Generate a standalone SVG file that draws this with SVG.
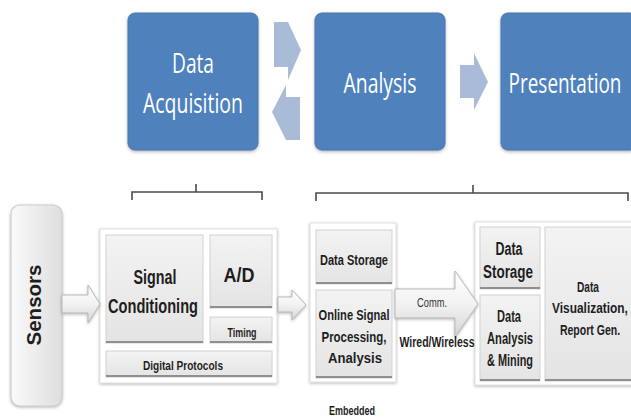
<svg xmlns="http://www.w3.org/2000/svg" width="631" height="419" viewBox="0 0 631 419">
  <defs>
    <linearGradient id="cellFill" x1="0" y1="0" x2="0" y2="1">
      <stop offset="0" stop-color="#f3f3f3"/>
      <stop offset="1" stop-color="#e4e4e4"/>
    </linearGradient>
    <linearGradient id="arrowFill" x1="0" y1="0" x2="0" y2="1">
      <stop offset="0" stop-color="#ffffff"/>
      <stop offset="0.5" stop-color="#f2f2f2"/>
      <stop offset="1" stop-color="#d4d4d4"/>
    </linearGradient>
    <linearGradient id="sensorFill" x1="0" y1="0" x2="1" y2="0">
      <stop offset="0" stop-color="#fafafa"/>
      <stop offset="0.5" stop-color="#ececec"/>
      <stop offset="1" stop-color="#dedede"/>
    </linearGradient>
    <filter id="soft" x="-10%" y="-10%" width="120%" height="120%">
      <feDropShadow dx="0" dy="1" stdDeviation="1.6" flood-color="#7a7a7a" flood-opacity="0.55"/>
    </filter>
    <filter id="blueShadow" x="-10%" y="-10%" width="120%" height="120%">
      <feDropShadow dx="0" dy="1.5" stdDeviation="1.5" flood-color="#6d6d6d" flood-opacity="0.5"/>
    </filter>
  </defs>
  <style>
    .stage { fill: #4f81bd; stroke: #4677b3; stroke-width: 1; filter: url(#blueShadow); }
    .stage-text { font-family: "Open Sans", "Noto Sans", sans-serif; font-size: 28px; fill: #ffffff; text-anchor: middle; }
    .flow { fill: #a9bbd7; }
    .panel { fill: #ffffff; stroke: #e2e2e2; stroke-width: 1; filter: url(#soft); }
    .cell { fill: url(#cellFill); stroke: #d2d2d2; stroke-width: 1; }
    .edge { fill: none; stroke: #8f8f8f; stroke-width: 2; }
    .pipe { fill: url(#arrowFill); stroke: #b9b9b9; stroke-width: 1; filter: url(#soft); }
    .brace { fill: none; stroke: #4a4a4a; stroke-width: 1.6; }
    .lbl { font-family: "Liberation Sans", Arial, sans-serif; font-weight: bold; fill: #1e1e1e; text-anchor: middle; }
    .plain { font-family: "Liberation Sans", Arial, sans-serif; fill: #333333; text-anchor: middle; }
  </style>

  <rect width="631" height="419" fill="#ffffff"/>

  <!-- stage boxes -->
  <g id="stage-acquisition">
    <rect class="stage" x="128" y="13" width="130" height="137" rx="7"/>
    <text class="stage-text" x="193" y="73" textLength="42" lengthAdjust="spacingAndGlyphs">Data</text>
    <text class="stage-text" x="193" y="113" textLength="100" lengthAdjust="spacingAndGlyphs">Acquisition</text>
  </g>
  <g id="stage-analysis">
    <rect class="stage" x="315" y="13" width="130" height="137" rx="7"/>
    <text class="stage-text" x="380" y="93" textLength="73" lengthAdjust="spacingAndGlyphs">Analysis</text>
  </g>
  <g id="stage-presentation">
    <rect class="stage" x="501" y="13" width="136" height="137" rx="7"/>
    <text class="stage-text" transform="translate(565,93) scale(0.6,1)" x="0" y="0" textLength="188" lengthAdjust="spacingAndGlyphs">Presentation</text>
  </g>

  <!-- stage flow arrows -->
  <g id="stage-flows">
    <polygon class="flow" points="274,22 288,22 301,50 288,80 288,67 274,67"/>
    <polygon class="flow" points="300,97 286,97 286,85 272,112 286,140 300,140"/>
    <polygon class="flow" points="460,65 474,65 474,53 488,82 474,110 474,98 460,98"/>
  </g>

  <!-- braces grouping the blocks under each stage -->
  <g id="braces">
    <path class="brace" d="M132,200 V192 H262 V200 M196,192 V184"/>
    <path class="brace" d="M316,201 V193 H628 V201 M473,193 V185"/>
  </g>

  <!-- sensors -->
  <g id="sensors">
    <rect x="11" y="205" width="51" height="201" rx="9" fill="url(#sensorFill)" stroke="#cfcfcf" stroke-width="1.2" filter="url(#soft)"/>
    <text class="lbl" transform="translate(41,305) rotate(-90)" x="0" y="0" font-size="20" fill="#333333" textLength="81" lengthAdjust="spacingAndGlyphs">Sensors</text>
  </g>

  <!-- acquisition hardware -->
  <g id="acquisition-block">
    <rect class="panel" x="100" y="229" width="177" height="154"/>
    <g id="signal-conditioning">
      <rect class="cell" x="106" y="235" width="97" height="108"/>
      <path class="edge" d="M106,342 H203"/>
      <text class="lbl" x="155" y="284" font-size="21" textLength="43" lengthAdjust="spacingAndGlyphs">Signal</text>
      <text class="lbl" x="153" y="313" font-size="21" textLength="90" lengthAdjust="spacingAndGlyphs">Conditioning</text>
    </g>
    <g id="ad-converter">
      <rect class="cell" x="210" y="235" width="62" height="73"/>
      <path class="edge" d="M210,307 H272"/>
      <text class="lbl" x="239" y="282" font-size="21" textLength="31" lengthAdjust="spacingAndGlyphs">A/D</text>
    </g>
    <g id="timing">
      <rect class="cell" x="210" y="317" width="62" height="26"/>
      <path class="edge" d="M210,342 H272"/>
      <text class="lbl" x="242" y="337" font-size="13" textLength="29" lengthAdjust="spacingAndGlyphs">Timing</text>
    </g>
    <g id="digital-protocols">
      <rect class="cell" x="106" y="351" width="166" height="26"/>
      <path class="edge" d="M106,376 H272"/>
      <text class="lbl" x="183" y="370" font-size="13" textLength="80" lengthAdjust="spacingAndGlyphs">Digital Protocols</text>
    </g>
  </g>

  <!-- embedded processing -->
  <g id="embedded-block">
    <rect class="panel" x="310" y="223" width="86" height="159"/>
    <g id="embedded-storage">
      <rect class="cell" x="316" y="230" width="76" height="54"/>
      <path class="edge" d="M316,283 H392"/>
      <text class="lbl" x="354" y="265" font-size="14" textLength="68" lengthAdjust="spacingAndGlyphs">Data Storage</text>
    </g>
    <g id="online-processing">
      <rect class="cell" x="316" y="290" width="76" height="88"/>
      <path class="edge" d="M316,377 H392"/>
      <text class="lbl" x="354" y="320" font-size="15" textLength="71" lengthAdjust="spacingAndGlyphs">Online Signal</text>
      <text class="lbl" x="354" y="342" font-size="15" textLength="65" lengthAdjust="spacingAndGlyphs">Processing,</text>
      <text class="lbl" x="355" y="363" font-size="15" textLength="54" lengthAdjust="spacingAndGlyphs">Analysis</text>
    </g>
    <text class="lbl" x="352" y="415" font-size="13" textLength="46" lengthAdjust="spacingAndGlyphs">Embedded</text>
  </g>

  <!-- back-end processing and reporting -->
  <g id="backend-block">
    <rect class="panel" x="475" y="222" width="162" height="163"/>
    <g id="backend-storage">
      <rect class="cell" x="480" y="227" width="60" height="62"/>
      <path class="edge" d="M480,288 H540"/>
      <text class="lbl" x="509" y="255" font-size="18" textLength="27" lengthAdjust="spacingAndGlyphs">Data</text>
      <text class="lbl" x="508" y="278" font-size="18" textLength="50" lengthAdjust="spacingAndGlyphs">Storage</text>
    </g>
    <g id="analysis-mining">
      <rect class="cell" x="480" y="295" width="60" height="86"/>
      <path class="edge" d="M480,380 H540"/>
      <text class="lbl" x="509" y="322" font-size="16" textLength="24" lengthAdjust="spacingAndGlyphs">Data</text>
      <text class="lbl" transform="translate(510,344) scale(0.72,1)" x="0" y="0" font-size="16" textLength="64" lengthAdjust="spacingAndGlyphs">Analysis</text>
      <text class="lbl" x="510" y="366" font-size="16" textLength="46" lengthAdjust="spacingAndGlyphs">&amp; Mining</text>
    </g>
    <g id="visualization">
      <rect class="cell" x="545" y="227" width="92" height="154"/>
      <path class="edge" d="M545,380 H637"/>
      <text class="lbl" x="588" y="292" font-size="15" textLength="22" lengthAdjust="spacingAndGlyphs">Data</text>
      <text class="lbl" transform="translate(590,313) scale(0.79,1)" x="0" y="0" font-size="15" textLength="96" lengthAdjust="spacingAndGlyphs">Visualization,</text>
      <text class="lbl" transform="translate(590,335) scale(0.7,1)" x="0" y="0" font-size="15" textLength="86" lengthAdjust="spacingAndGlyphs">Report Gen.</text>
    </g>
  </g>

  <!-- connectors between blocks -->
  <g id="connectors">
    <polygon class="pipe" points="62,295 88,295 88,285 100,304 88,323 88,313 62,313"/>
    <polygon class="pipe" points="278,297 292,297 292,290 306,305 292,320 292,312 278,312"/>
    <polygon class="pipe" points="395,289 455,289 455,271 478,304 455,337 455,318 395,318"/>
    <text class="plain" x="432" y="307" font-size="12" textLength="30" lengthAdjust="spacingAndGlyphs">Comm.</text>
    <text class="lbl" transform="translate(437,347) scale(0.75,1)" x="0" y="0" font-size="14" textLength="100" lengthAdjust="spacingAndGlyphs">Wired/Wireless</text>
  </g>
</svg>
